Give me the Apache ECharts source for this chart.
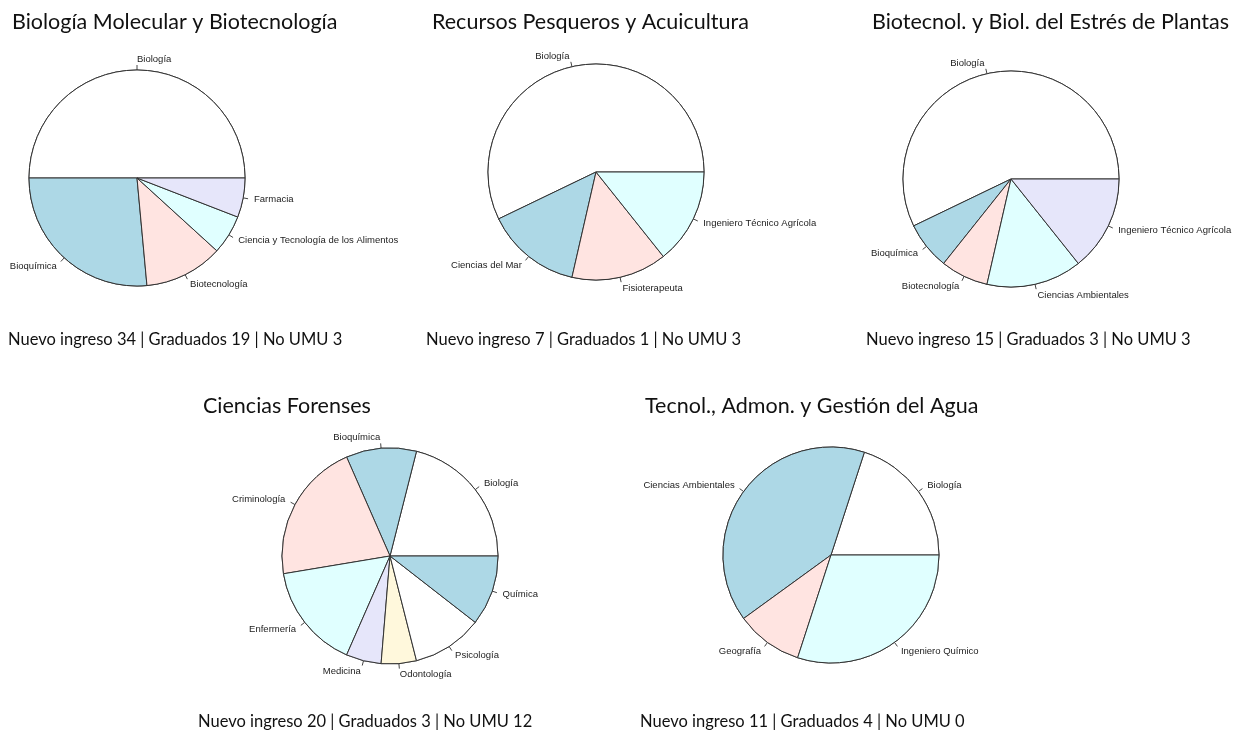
<!DOCTYPE html>
<html>
<head>
<meta charset="utf-8">
<script src="https://cdn.jsdelivr.net/npm/echarts@6/dist/echarts.min.js"></script>
<style>
html, body { margin: 0; padding: 0; background: #fff; }
#chart { width: 1246px; height: 734px; }
</style>
</head>
<body>
<div id="chart"></div>
<script>
// titulos y pies de cada grafico
const titles = [
    'Biología Molecular y Biotecnología',
    'Recursos Pesqueros y Acuicultura',
    'Biotecnol. y Biol. del Estrés de Plantas',
    'Ciencias Forenses',
    'Tecnol., Admon. y Gestión del Agua'
]
const footers = [
    'Nuevo ingreso 34 | Graduados 19 | No UMU 3',
    'Nuevo ingreso 7 | Graduados 1 | No UMU 3',
    'Nuevo ingreso 15 | Graduados 3 | No UMU 3',
    'Nuevo ingreso 20 | Graduados 3 | No UMU 12',
    'Nuevo ingreso 11 | Graduados 4 | No UMU 0'
]

// categorias y valores (orden antihorario desde las 3)
const catBiomol = ['Biología', 'Bioquímica', 'Biotecnología', 'Ciencia y Tecnología de los Alimentos', 'Farmacia']
const valBiomol = [17, 9, 4, 2, 2]
const catPesca = ['Biología', 'Ciencias del Mar', 'Fisioterapeuta', 'Ingeniero Técnico Agrícola']
const valPesca = [4, 1, 1, 1]
const catPlantas = ['Biología', 'Bioquímica', 'Biotecnología', 'Ciencias Ambientales', 'Ingeniero Técnico Agrícola']
const valPlantas = [8, 1, 1, 2, 2]
const catForense = ['Biología', 'Bioquímica', 'Criminología', 'Enfermería', 'Medicina', 'Odontología', 'Psicología', 'Química']
const valForense = [4, 2, 4, 3, 1, 1, 2, 2]
const catAgua = ['Biología', 'Ciencias Ambientales', 'Geografía', 'Ingeniero Químico']
const valAgua = [2, 4, 1, 3]

const cats = [catBiomol, catPesca, catPlantas, catForense, catAgua]
const vals = [valBiomol, valPesca, valPlantas, valForense, valAgua]

// colores por defecto de pie() en R
const PIE_COLORS = ['#ffffff', '#add8e6', '#ffe4e1', '#e0ffff', '#e6e6fa', '#fff8dc']

// posicion de cada grafico
const centers = [[137, 178], [596, 172], [1011, 179], [390, 556], [831, 555]]
const titlePos = [[12, 22], [432, 22], [872, 22], [203, 406], [645, 406]]
const footerPos = [[8, 340], [426, 340], [866, 340], [198, 722], [640, 722]]
const RADIUS = 108

const chart = echarts.init(document.getElementById('chart'))

const series = []
cats.forEach((c, i) => {
    const data = c.map((name, j) => ({
        name: name,
        value: vals[i][j],
        itemStyle: { color: PIE_COLORS[j % PIE_COLORS.length] }
    }))
    const base = {
        type: 'pie',
        center: centers[i],
        radius: RADIUS,
        startAngle: 0,
        clockwise: false,
        avoidLabelOverlap: false,
        silent: true,
        animation: false,
        emphasis: { disabled: true },
        labelLayout: { hideOverlap: false },
        data: data,
        itemStyle: { borderColor: '#333', borderWidth: 1 }
    }
    // marcas cortas (como R: de r a 1.05r), por debajo
    series.push(Object.assign({}, base, {
        z: 1,
        label: { show: true, position: 'outside', formatter: '.', fontSize: 1, color: 'rgba(0,0,0,0)', distanceToLabelLine: 0 },
        labelLine: { show: true, length: 5, length2: 0, lineStyle: { color: '#444', width: 1 } }
    }))
    // sectores + etiquetas a 1.1r
    series.push(Object.assign({}, base, {
        z: 2,
        label: {
            show: true,
            position: 'outside',
            formatter: '{b}',
            color: '#222',
            fontSize: 9.5,
            fontFamily: 'Liberation Sans',
            distanceToLabelLine: 0
        },
        labelLine: { show: true, length: 11, length2: 0, lineStyle: { opacity: 0 } }
    }))
})

const texts = []
titles.forEach((t, i) => {
    texts.push({
        type: 'text',
        x: titlePos[i][0],
        y: titlePos[i][1],
        style: {
            text: t,
            fill: '#111',
            fontSize: 21.5,
            fontFamily: 'Lato',
            verticalAlign: 'middle',
            align: 'left'
        }
    })
})
footers.forEach((t, i) => {
    texts.push({
        type: 'text',
        x: footerPos[i][0],
        y: footerPos[i][1],
        style: {
            text: t,
            fill: '#111',
            fontSize: 16.5,
            fontFamily: 'Lato',
            verticalAlign: 'middle',
            align: 'left'
        }
    })
})

chart.setOption({
    backgroundColor: '#ffffff',
    animation: false,
    graphic: texts,
    series: series
})
</script>
</body>
</html>
